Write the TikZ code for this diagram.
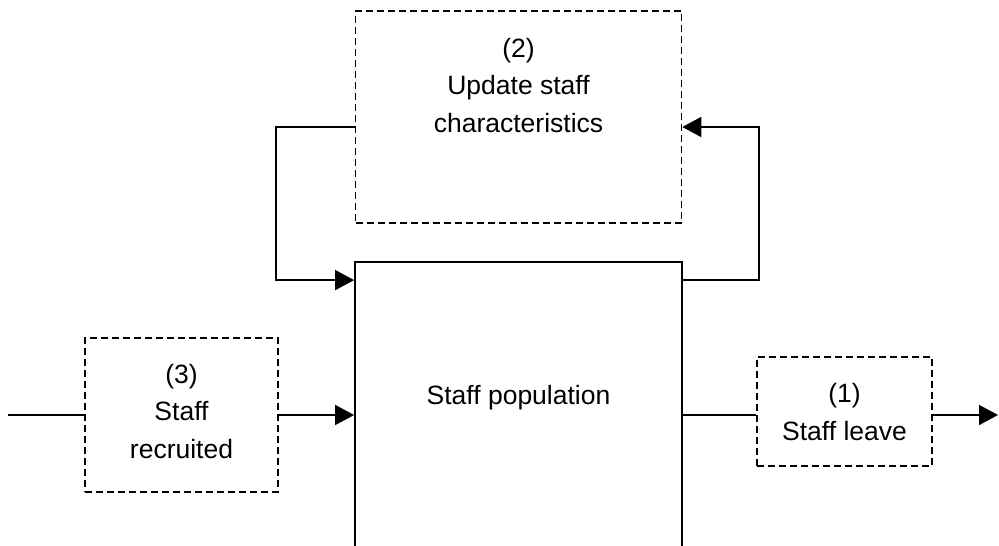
\documentclass[tikz,border=0pt]{standalone}
\usepackage{fontspec}
\setmainfont{Liberation Sans}
\usetikzlibrary{arrows.meta}
\begin{document}
\begin{tikzpicture}[x=1pt,y=-1pt,
  line width=1.7pt,
  dbox/.style={draw,dashed,dash pattern=on 7pt off 4pt,inner sep=0pt,line width=1.6pt},
  sbox/.style={draw,inner sep=0pt,line width=1.8pt},
  txt/.style={align=center,inner sep=0pt,font=\fontsize{26.5}{37.5}\selectfont},
  arr/.style={-{Triangle[length=19pt,width=20pt]}}
]
\useasboundingbox (0,0) rectangle (999,546);
\clip (0,0) rectangle (999,546);
% boxes
\node[dbox,minimum width=326pt,minimum height=212pt] (upd) at (518.5,117) {};
\node[sbox,minimum width=327pt,minimum height=320pt] (pop) at (518.5,422) {};
\node[dbox,minimum width=193pt,minimum height=154pt] (rec) at (181.5,415) {};
\node[dbox,minimum width=175pt,minimum height=109pt] (leave) at (844.5,411.5) {};
% texts (base anchor = last line baseline)
\node[txt,anchor=base] (updt) at (518.5,132) {(2)\\Update staff\\characteristics};
\node[txt,anchor=base] (popt) at (518.5,404) {Staff population};
\node[txt,anchor=base] (rect) at (181.5,458) {(3)\\Staff\\recruited};
\node[txt,anchor=base] (leavet) at (844.5,440) {(1)\\Staff leave};
% free ends
\coordinate (src) at (8,415);
\coordinate (sink) at (998,415);
% connectors
\draw[arr] ([yshift=-10pt]upd.west) -- ++(-78.5pt,0) |- ([yshift=-19pt]pop.north west);
\draw[arr] ([yshift=-19pt]pop.north east) -- ++(76pt,0) |- ([yshift=-10pt]upd.east);
\draw (src) -- (rec.west);
\draw[arr] (rec.east) -- (pop.west |- rec.east);
\draw (pop.east |- rec.east) -- (leave.west |- rec.east);
\draw[arr] (leave.east |- rec.east) -- (sink);
\end{tikzpicture}
\end{document}
